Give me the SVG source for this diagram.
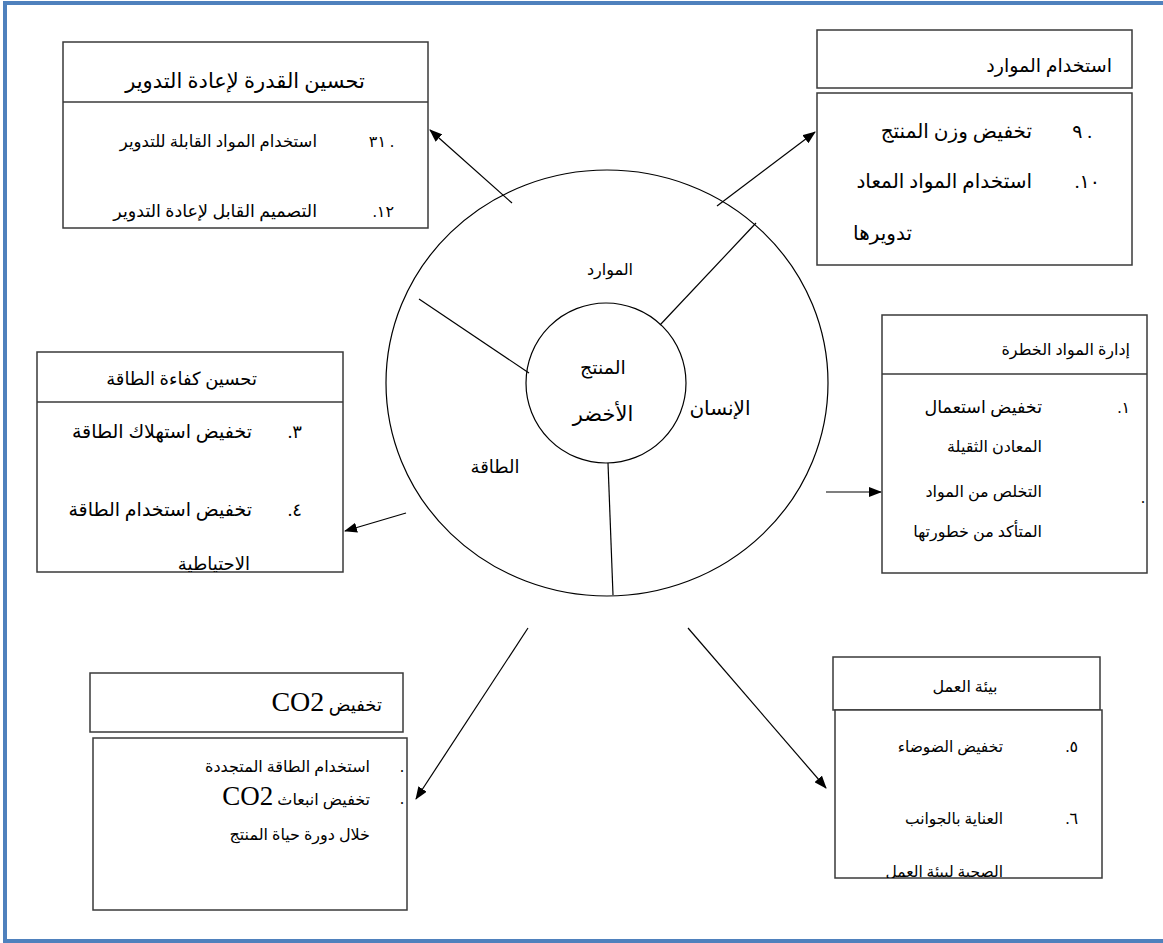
<svg xmlns="http://www.w3.org/2000/svg" width="1163" height="943" viewBox="0 0 1163 943">
<defs>
<marker id="ah" viewBox="0 0 13 10" refX="12" refY="5" markerWidth="13" markerHeight="10" markerUnits="userSpaceOnUse" orient="auto"><path d="M0,0 L13,5 L0,10 z" fill="#000"/></marker>
<clipPath id="clipE"><rect x="37" y="402" width="306" height="170"/></clipPath>
<clipPath id="clipW"><rect x="835" y="710" width="267" height="168"/></clipPath>
<style>
.box{fill:#fff;stroke:#3a3a3a;stroke-width:1.5}
.ar{font-family:'Liberation Serif','DejaVu Sans',serif;font-size:16px;fill:#000}
.lat{font-family:'Liberation Serif',serif;font-size:28px}
.ln{stroke:#000;stroke-width:1.2;fill:none}
.conn{stroke:#000;stroke-width:1.2;fill:none;marker-end:url(#ah)}
</style>
</defs>
<rect x="0" y="0" width="1163" height="943" fill="#fff"/>
<path d="M1163,3 H5 V941 H1163" fill="none" stroke="#4f81bd" stroke-width="4"/>

<g id="wheel">
<ellipse cx="607" cy="383" rx="221" ry="213" class="ln"/>
<circle cx="606" cy="383" r="80" class="ln"/>
<line x1="529" y1="373" x2="419" y2="299" class="ln"/>
<line x1="660" y1="325" x2="756" y2="223" class="ln"/>
<line x1="608" y1="463" x2="613" y2="595" class="ln"/>
<text class="ar" x="610" y="275" text-anchor="middle">الموارد</text>
<text class="ar" style="font-size:19px" x="603" y="374" text-anchor="middle">المنتج</text>
<text class="ar" style="font-size:21px" x="603" y="421" text-anchor="middle">الأخضر</text>
<text class="ar" style="font-size:20px" x="720" y="415" text-anchor="middle">الإنسان</text>
<text class="ar" style="font-size:18px" x="495" y="473" text-anchor="middle">الطاقة</text>
</g>

<g id="connectors">
<line x1="512" y1="203" x2="430" y2="130" class="conn"/>
<line x1="717" y1="206" x2="815" y2="132" class="conn"/>
<line x1="826" y1="492" x2="881" y2="492" class="conn"/>
<line x1="406" y1="513" x2="345" y2="531" class="conn"/>
<line x1="528" y1="628" x2="416" y2="799" class="conn"/>
<line x1="688" y1="628" x2="826" y2="788" class="conn"/>
</g>

<g id="recycling">
<rect x="63" y="42" width="365" height="186" class="box"/>
<line x1="63" y1="102" x2="428" y2="102" class="box"/>
<text class="ar" style="font-size:21px" x="245" y="88" text-anchor="middle">تحسين القدرة لإعادة التدوير</text>
<text class="ar" x="394" y="147" text-anchor="end">٣١ .</text>
<text class="ar" style="font-size:16.5px" x="317" y="147" text-anchor="end">استخدام المواد القابلة للتدوير</text>
<text class="ar" x="394" y="217" text-anchor="end">.١٢</text>
<text class="ar" style="font-size:17.5px" x="317" y="217" text-anchor="end">التصميم القابل لإعادة التدوير</text>
</g>

<g id="resources">
<rect x="817" y="30" width="315" height="58" class="box"/>
<rect x="817" y="93" width="315" height="172" class="box"/>
<text class="ar" style="font-size:19px" x="1112" y="72" text-anchor="end">استخدام الموارد</text>
<text class="ar" style="font-size:19px" x="1092" y="138" text-anchor="end">٩ .</text>
<text class="ar" style="font-size:20px" x="1032" y="138" text-anchor="end">تخفيض وزن المنتج</text>
<text class="ar" style="font-size:19px" x="1100" y="188" text-anchor="end">.١٠</text>
<text class="ar" style="font-size:20px" x="1032" y="188" text-anchor="end">استخدام المواد المعاد</text>
<text class="ar" style="font-size:20px" x="912" y="240" text-anchor="end">تدويرها</text>
</g>

<g id="energy">
<rect x="37" y="352" width="306" height="220" class="box"/>
<line x1="37" y1="402" x2="343" y2="402" class="box"/>
<text class="ar" style="font-size:18px" x="257" y="385" text-anchor="end">تحسين كفاءة الطاقة</text>
<text class="ar" style="font-size:18px" x="302" y="438" text-anchor="end">.٣</text>
<text class="ar" style="font-size:19px" x="252" y="438" text-anchor="end">تخفيض استهلاك الطاقة</text>
<text class="ar" style="font-size:18px" x="302" y="516" text-anchor="end">.٤</text>
<text class="ar" style="font-size:19px" x="252" y="516" text-anchor="end">تخفيض استخدام الطاقة</text>
<g clip-path="url(#clipE)"><text class="ar" style="font-size:18px" x="250" y="570" text-anchor="end">الاحتياطية</text></g>
</g>

<g id="hazardous">
<rect x="882" y="315" width="265" height="258" class="box"/>
<line x1="882" y1="374" x2="1147" y2="374" class="box"/>
<text class="ar" x="1130" y="355" text-anchor="end">إدارة المواد الخطرة</text>
<text class="ar" x="1130" y="413" text-anchor="end">.١</text>
<text class="ar" style="font-size:17.5px" x="1042" y="413" text-anchor="end">تخفيض استعمال</text>
<text class="ar" x="1042" y="452" text-anchor="end">المعادن الثقيلة</text>
<text class="ar" x="1145" y="503" text-anchor="end">.</text>
<text class="ar" x="1042" y="497" text-anchor="end">التخلص من المواد</text>
<text class="ar" x="1042" y="537" text-anchor="end">المتأكد من خطورتها</text>
</g>

<g id="co2">
<rect x="90" y="673" width="313" height="59" class="box"/>
<rect x="93" y="738" width="314" height="172" class="box"/>
<text class="ar" style="font-size:18px" direction="rtl" x="382" y="711" text-anchor="start">تخفيض <tspan class="lat">CO2</tspan></text>
<text class="ar" x="404" y="772" text-anchor="end">.</text>
<text class="ar" x="370" y="772" text-anchor="end">استخدام الطاقة المتجددة</text>
<text class="ar" x="404" y="804" text-anchor="end">.</text>
<text class="ar" direction="rtl" x="370" y="805" text-anchor="start">تخفيض انبعاث <tspan class="lat" style="font-size:27px">CO2</tspan></text>
<text class="ar" x="370" y="840" text-anchor="end">خلال دورة حياة المنتج</text>
</g>

<g id="workenv">
<rect x="833" y="657" width="267" height="53" class="box"/>
<rect x="835" y="710" width="267" height="168" class="box"/>
<text class="ar" x="965" y="692" text-anchor="middle">بيئة العمل</text>
<text class="ar" x="1078" y="752" text-anchor="end">.٥</text>
<text class="ar" style="font-size:15.5px" x="1003" y="752" text-anchor="end">تخفيض الضوضاء</text>
<text class="ar" x="1078" y="824" text-anchor="end">.٦</text>
<text class="ar" style="font-size:15.5px" x="1003" y="824" text-anchor="end">العناية بالجوانب</text>
<g clip-path="url(#clipW)"><text class="ar" style="font-size:15.5px" x="1003" y="877" text-anchor="end">الصحية لبيئة العمل</text></g>
</g>
</svg>
